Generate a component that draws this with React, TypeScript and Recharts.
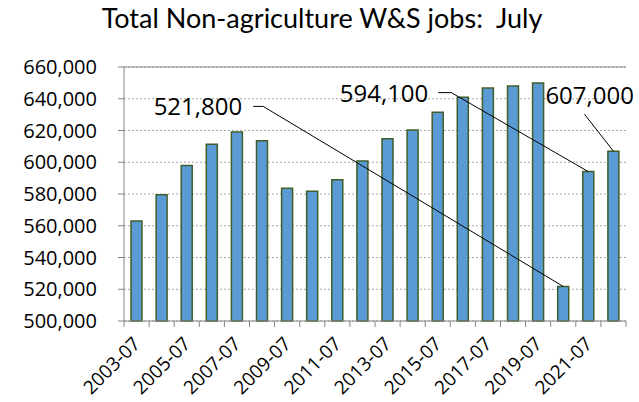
import { BarChart, Bar, XAxis, YAxis, CartesianGrid, ReferenceLine, LabelList } from "recharts";

// July values, non-agriculture wage & salary jobs
const months = [
  "2003-07", "2004-07", "2005-07", "2006-07", "2007-07", "2008-07", "2009-07",
  "2010-07", "2011-07", "2012-07", "2013-07", "2014-07", "2015-07", "2016-07",
  "2017-07", "2018-07", "2019-07", "2020-07", "2021-07", "2022-07",
];
const jobs = [
  563000, 579500, 598000, 611300, 619100, 613600, 583700, 581800, 589000, 600800,
  614800, 620300, 631500, 641000, 646800, 648100, 650000, 521800, 594100, 607000,
];
const yTicks = [500000, 520000, 540000, 560000, 580000, 600000, 620000, 640000, 660000];

const W = 639;
const H = 402;
const M = { top: 67, right: 13, left: 0, bottom: 0 };
const Y_W = 124;
const BAND = (W - Y_W - M.left - M.right) / months.length;
const FONT = "'Open Sans', 'Noto Sans', sans-serif";
const TITLE_FONT = "Lato, 'Open Sans', sans-serif";
const AXIS = "#868686";

const data = months.map((m, i) => ({ month: m, jobs: jobs[i] }));

const fmt = (v: number) => v.toLocaleString("en-US");

// callouts: text offset and leader line, relative to the bar top
const callouts: Record<number, { tx: number; ty: number; anchor: string; pts: number[][] }> = {
  17: { tx: -321, ty: -171, anchor: "end", pts: [[-310, -180], [-300, -180]] },
  18: { tx: -160, ty: -70, anchor: "end", pts: [[-150, -79], [-137, -79]] },
  19: { tx: -68, ty: -47, anchor: "start", pts: [[-29, -37]] },
};

const Callout = (props: any) => {
  const { x, y, width, index, value } = props;
  const c = callouts[index];
  if (!c) return null;
  const cx = x + width / 2;
  const cy = y;
  const pts = [...c.pts.map(([dx, dy]) => `${cx + dx},${cy + dy}`), `${cx},${cy}`].join(" ");
  return (
    <g>
      <polyline points={pts} fill="none" stroke="#000" strokeWidth={1} />
      <text x={cx + c.tx} y={cy + c.ty} textAnchor={c.anchor} fontSize={24} fontFamily={FONT} fill="#000">
        {fmt(value)}
      </text>
    </g>
  );
};

const MonthTick = (props: any) => {
  const { x, y, payload, index } = props;
  const left = x - BAND / 2;
  const tx = x + 5;
  const ty = y + 24;
  return (
    <g>
      <line x1={left} y1={y} x2={left} y2={y + 6} stroke={AXIS} />
      {index === months.length - 1 && <line x1={x + BAND / 2} y1={y} x2={x + BAND / 2} y2={y + 6} stroke={AXIS} />}
      {index % 2 === 0 && (
        <text x={tx} y={ty} textAnchor="end" fontSize={19} fontFamily={FONT} fill="#000" transform={`rotate(-45, ${tx}, ${ty})`}>
          {payload.value}
        </text>
      )}
    </g>
  );
};

const ValueTick = (props: any) => {
  const { y, payload } = props;
  return (
    <text x={Y_W - 27} y={y} dy={7} textAnchor="end" fontSize={20} fontFamily={FONT} fill="#000">
      {fmt(payload.value)}
    </text>
  );
};

export default function App() {
  return (
    <div style={{ position: "absolute", left: 0, top: 0, width: W, height: H, background: "#fff" }}>
      <div style={{ position: "absolute", left: 0, top: 0, width: 644, textAlign: "center", fontFamily: TITLE_FONT, fontSize: 27, color: "#000", lineHeight: "36px" }}>
        Total Non-agriculture W&amp;S jobs:&nbsp; July
      </div>
      <BarChart width={W} height={H} data={data} margin={M} barSize={11}>
        <CartesianGrid vertical={false} stroke="#a6a6a6" strokeDasharray="2 2" />
        <XAxis dataKey="month" interval={0} tickLine={false} tickSize={0} tickMargin={0} height={81} stroke={AXIS} tick={<MonthTick />} />
        <YAxis
          domain={[500000, 660000]}
          ticks={yTicks}
          width={Y_W}
          stroke={AXIS}
          tickSize={6}
          tick={<ValueTick />}
          interval={0}
        />
        <YAxis yAxisId="r" orientation="right" width={0} tick={false} stroke={AXIS} />
        <ReferenceLine y={660000} stroke={AXIS} />
        <Bar dataKey="jobs" fill="#5b9bd5" stroke="#3f5f2a" strokeWidth={1.5} isAnimationActive={false}>
          <LabelList dataKey="jobs" content={<Callout />} />
        </Bar>
      </BarChart>
    </div>
  );
}
